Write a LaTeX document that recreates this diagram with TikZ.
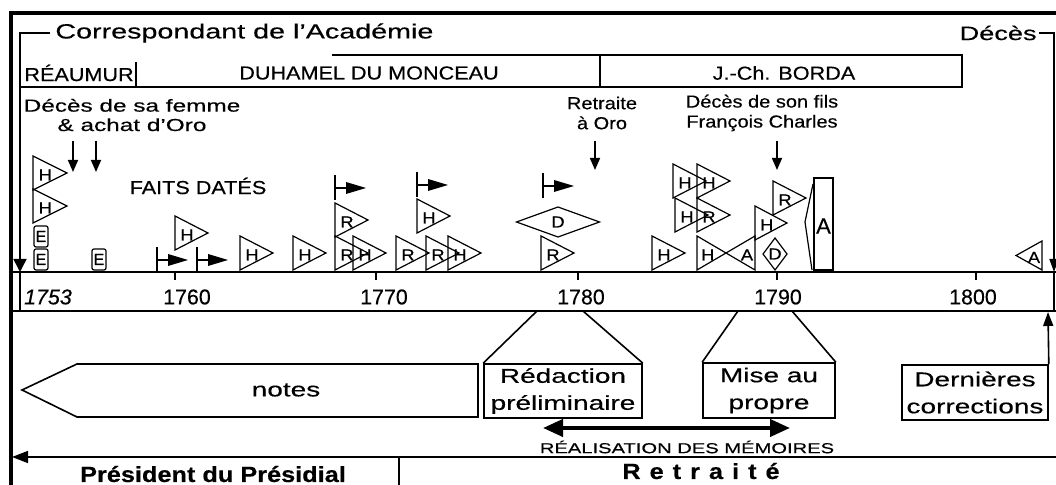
\documentclass[tikz,border=0pt]{standalone}
\usepackage{fontspec}
\setmainfont{Liberation Sans}[FakeStretch=1.4, FakeBold=0.4]
\newfontfamily\etroit{Liberation Sans}[FakeStretch=1.15, FakeBold=0.4]
\newfontfamily\chiffres{Liberation Sans}[FakeBold=0.4]
\usetikzlibrary{arrows.meta}
\usetikzlibrary{positioning}

\definecolor{colorInk}{HTML}{000000}
\def\colorInk{colorInk}

\tikzset{
    trait/.style={line width=0.8pt, color=\colorInk},
    axe/.style={line width=1.4pt, color=\colorInk},
    cadre/.style={line width=1.8pt, color=\colorInk},
    glyphe/.style={line width=0.6pt, color=\colorInk},
    lettre/.style={inner sep=0pt, font=\etroit\fontsize{8}{9}\selectfont},
    texte/.style={inner sep=0pt, align=center},
    boite/.style={draw, line width=0.8pt, inner sep=0pt, align=center, font=\fontsize{10}{13.5}\selectfont},
    fleche/.style={-{Triangle[length=6pt,width=5pt]}},
}

% triangle vers la droite : #1 = largeur, #2 = x gauche, #3 = y bas, #4 = lettre
\newcommand{\triD}[4][33]{
    \draw[glyphe] (#2,#3) -- (#2,#3-34) -- (#2+#1,#3-17) -- cycle;
    \node[lettre] (t-#2-#3) at (#2+#1/3+1,#3-15) {#4};
}
% triangle vers la gauche : #1 = x droite, #2 = y bas, #3 = largeur, #4 = hauteur, #5 = lettre
\newcommand{\triG}[5]{
    \draw[glyphe] (#1,#2) -- (#1,#2-#4) -- (#1-#3,#2-#4/2) -- cycle;
    \node[lettre] (t-#1-#2) at (#1-8,#2-#4/2+2) {#5};
}
% petite boite E : #1 = x gauche, #2 = y bas
\newcommand{\boiteE}[2]{
    \draw[glyphe, rounded corners=1pt] (#1,#2) rectangle (#1+14,#2-21);
    \node[lettre, font=\chiffres\fontsize{8}{9}\selectfont] (e-#1-#2) at (#1+7,#2-10.5) {E};
}
% drapeau : #1 = x, #2 = y bas
\newcommand{\drapeau}[2]{
    \draw[glyphe, line width=1.1pt] (#1,#2) -- (#1,#2-25);
    \draw[glyphe, line width=1.1pt] (#1,#2-12) -- (#1+11,#2-12);
    \fill[\colorInk] (#1+11,#2-18) -- (#1+31,#2-12) -- (#1+11,#2-6) -- cycle;
}
% losange : centre (#1,#2), largeur #3, hauteur #4, lettre #5
\newcommand{\losange}[5]{
    \draw[glyphe] (#1-#3/2,#2) -- (#1,#2-#4/2) -- (#1+#3/2,#2) -- (#1,#2+#4/2) -- cycle;
    \node[lettre] (d-#1-#2) at (#1,#2) {#5};
}

\begin{document}
\begin{tikzpicture}[x=0.5pt, y=-0.5pt]

    \useasboundingbox (0,0) rectangle (1056,485);
    \clip (0,0) rectangle (1056,485);

    % Cadre
    \draw[cadre] (11,500) -- (11,13) -- (1060,13);

    % Correspondant de l'Academie
    \node[texte, anchor=west, font=\fontsize{10.25}{12}\selectfont] (correspondant) at (55,33) {Correspondant de l'Académie};
    \node[texte, anchor=east, font=\fontsize{9.7}{12}\selectfont] (deces) at (1037,33) {Décès};
    \coordinate (corr-axe) at (20,272);
    \coordinate (corr-bas) at (20,311);
    \coordinate (deces-axe) at (1054,272);
    \coordinate (deces-bas) at (1054,311);
    \draw[trait, -{Triangle[length=6.5pt,width=6.5pt]}] ([xshift=-2.5pt]correspondant.west) -| (corr-axe);
    \draw[trait] (corr-axe) -- (corr-bas);
    \draw[trait, -{Triangle[length=6.5pt,width=4.5pt]}] ([xshift=1pt]deces.east) -| (deces-axe);
    \draw[trait] (deces-axe) -- (deces-bas);

    % Rapporteurs
    \draw[trait] (20,87) -- (962,87) -- (962,55) -- (332,55);
    \draw[trait] (136,62) -- (136,87);
    \draw[trait] (600,55) -- (600,87);
    \node[texte, anchor=west, font=\etroit\fontsize{9.4}{11}\selectfont] (reaumur) at (24,73) {RÉAUMUR};
    \node[texte, font=\etroit\fontsize{9.4}{11}\selectfont] (duhamel) at (369,73) {DUHAMEL DU MONCEAU};
    \node[texte, font=\etroit\fontsize{9.4}{11}\selectfont] (borda) at (784,73) {J.-Ch. BORDA};

    % Evenements
    \node[texte, font=\fontsize{8.7}{9.7}\selectfont] (femme) at (132,115) {Décès de sa femme\\\& achat d'Oro};
    \node[texte, font=\etroit\fontsize{8.7}{10}\selectfont] (oro) at (602,113) {Retraite\\à Oro};
    \node[texte, font=\etroit\fontsize{8.7}{10}\selectfont] (fils) at (762,113) {Décès de son fils\\François Charles};
    \coordinate (femme-h1) at (73,141);
    \coordinate (femme-b1) at (73,172);
    \coordinate (femme-h2) at (96,141);
    \coordinate (femme-b2) at (96,172);
    \coordinate (oro-h) at (595,141);
    \coordinate (oro-b) at (595,170);
    \coordinate (fils-h) at (777,141);
    \coordinate (fils-b) at (777,170);
    \draw[trait, fleche] (femme-h1) -- (femme-b1);
    \draw[trait, fleche] (femme-h2) -- (femme-b2);
    \draw[trait, fleche] (oro-h) -- (oro-b);
    \draw[trait, fleche] (fils-h) -- (fils-b);

    \node[texte, font=\etroit\fontsize{9.4}{11}\selectfont] (faits) at (198,186) {FAITS DATÉS};

    % Faits dates
    \triD[34]{33}{190}{H}
    \triD[34]{33}{223}{H}
    \boiteE{34}{247}
    \boiteE{34}{270}
    \boiteE{92}{270}
    \drapeau{157}{272}
    \drapeau{197}{272}
    \triD{175}{250}{H}
    \triD{240}{270}{H}
    \triD{293}{270}{H}
    \triD{335}{270}{R}
    \triD{353}{270}{H}
    \triD{335}{237}{R}
    \drapeau{335}{200}
    \triD{396}{270}{R}
    \triD{426}{270}{R}
    \triD{448}{270}{H}
    \triD{417}{233}{H}
    \drapeau{417}{197}
    \losange{558}{222}{83}{30}{D}
    \triD{541}{270}{R}
    \drapeau{543}{198}
    \triD{652}{270}{H}
    \triD{673}{198}{H}
    \triD{697}{198}{H}
    \triD{675}{232}{H}
    \triD{697}{232}{R}
    \triD[29]{697}{270}{H}
    \triG{755}{270}{29}{34}{A}
    \triD[32]{755}{240}{H}
    \triD{773}{215}{R}
    \losange{775}{254}{24}{32}{D}
    \draw[glyphe] (814,178) rectangle (833,270);
    \draw[glyphe] (813,184) -- (805,222) -- (812,270);
    \node[lettre, font=\chiffres\fontsize{11}{12}\selectfont] (archives) at (823.5,226) {A};
    \triG{1042}{270}{26}{29}{A}

    % Axe du temps
    \draw[axe] (11,272) -- (1060,272);
    \draw[axe] (11,311) -- (1060,311);
    \foreach \x/\xl/\an in {175/187/1760, 376/384/1770, 578/581/1780, 777/778/1790, 976/973/1800} {
        \draw[trait] (\x,272) -- (\x,280);
        \node[texte, font=\chiffres\fontsize{10.7}{12}\selectfont] (an\an) at (\xl,297) {\an};
    }
    \node[texte, font=\chiffres\itshape\fontsize{10.7}{12}\selectfont] (an1753) at (48,297) {1753};

    % Redaction des memoires
    \draw[trait] (22,390) -- (77,364) -- (478,364) -- (478,417) -- (77,417) -- cycle;
    \node[texte, font=\fontsize{10}{12}\selectfont] (notes) at (286,390) {notes};

    \node[boite, minimum width=79pt, minimum height=27pt] (redaction) at (563,391) {Rédaction\\préliminaire};
    \coordinate (redaction-g) at (537,311);
    \coordinate (redaction-d) at (583,311);
    \draw[trait] (redaction.north west) -- (redaction-g);
    \draw[trait] (redaction.north east) -- (redaction-d);

    \node[boite, minimum width=66pt, minimum height=27.5pt] (propre) at (769,390.5) {Mise au\\propre};
    \coordinate (propre-g) at (738,311);
    \coordinate (propre-d) at (792,311);
    \draw[trait] (propre.north west) -- (propre-g);
    \draw[trait] (propre.north east) -- (propre-d);

    \node[boite, minimum width=73pt, minimum height=27.5pt] (corrections) at (975,392.5) {Dernières\\corrections};
    \coordinate (corrections-h) at (1048,312);
    \draw[trait, -{Triangle[length=7pt,width=5pt]}] (corrections.north east) -- (corrections-h);

    \coordinate (realisation-g) at (543,428);
    \coordinate (realisation-d) at (790,428);
    \draw[line width=2pt, {Triangle[length=10pt,width=8.5pt]}-{Triangle[length=10pt,width=8.5pt]}] (realisation-g) -- (realisation-d);
    \node[texte, font=\fontsize{7.2}{8}\selectfont] (realisation) at (687,447) {RÉALISATION DES MÉMOIRES};

    % Carriere
    \coordinate (carriere-d) at (1060,457);
    \coordinate (carriere-g) at (12,457);
    \coordinate (carriere-sep) at (399,457);
    \coordinate (carriere-bas) at (399,490);
    \draw[trait, -{Triangle[length=8pt,width=6pt]}] (carriere-d) -- (carriere-g);
    \draw[trait] (carriere-sep) -- (carriere-bas);
    \node[texte, anchor=base, font=\etroit\bfseries\fontsize{11}{12}\selectfont] (president) at (213,482) {Président du Présidial};
    \node[texte, anchor=base, font=\etroit\bfseries\fontsize{11}{12}\selectfont] (retraite) at (701,479) {\spaceskip=4.5pt R e t r a i t é};

\end{tikzpicture}
\end{document}
